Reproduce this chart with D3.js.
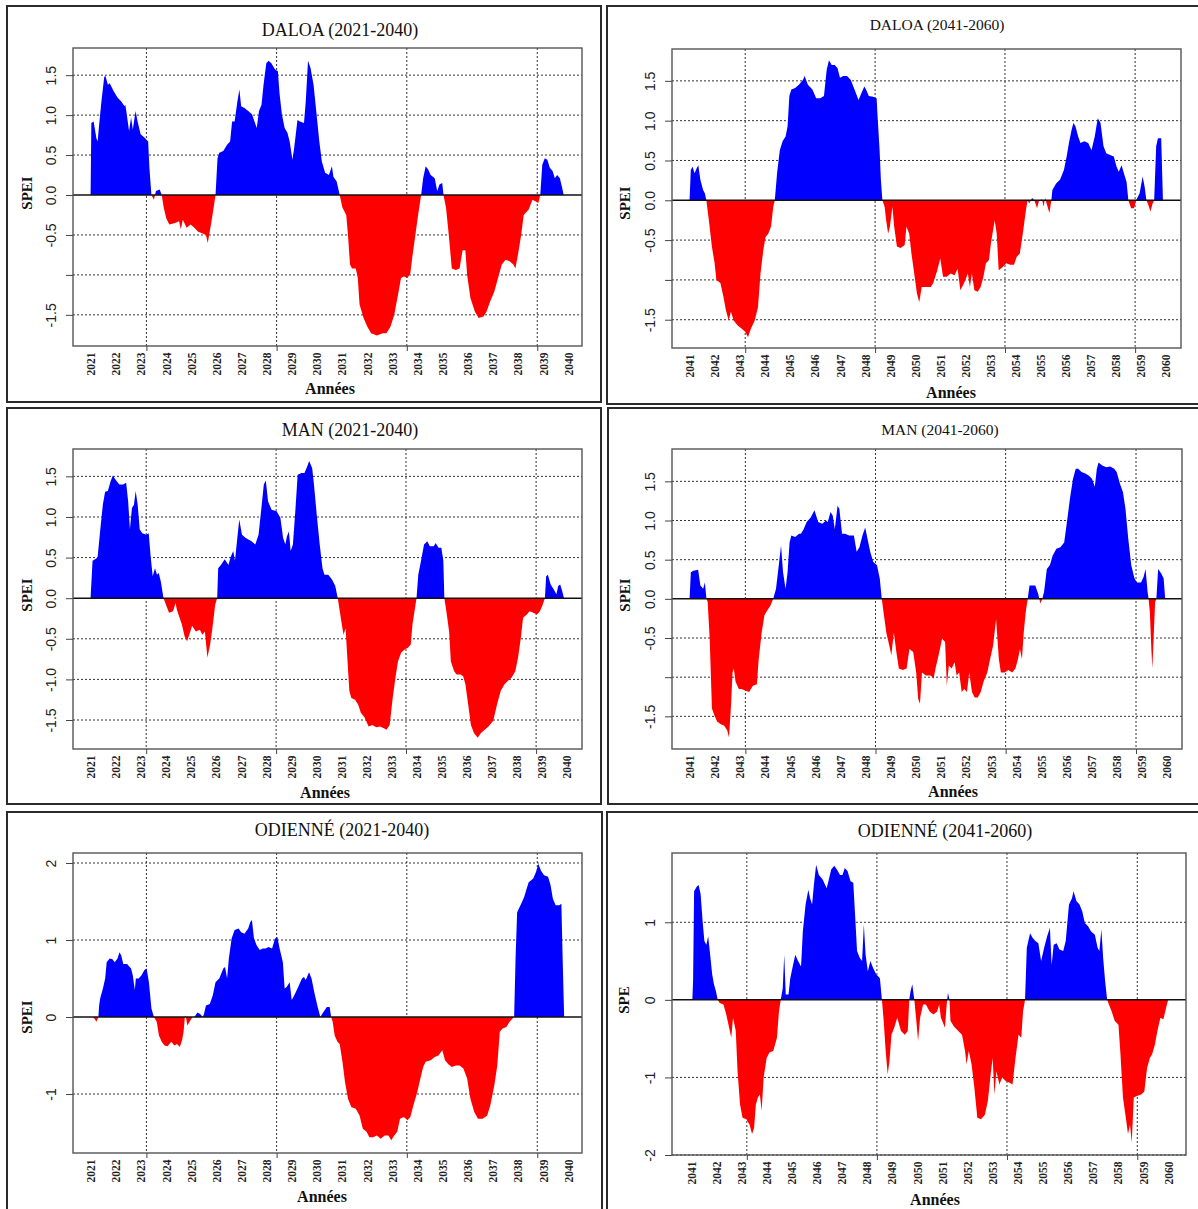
<!DOCTYPE html>
<html>
<head>
<meta charset="utf-8">
<script src="https://cdn.jsdelivr.net/npm/d3@7/dist/d3.min.js"></script>
<style>
  body { margin: 0; background: #fff; }
</style>
</head>
<body>
<svg id="chart"></svg>
<script>
// SPEI series: [years since first labelled year, SPEI]
var daloa2021 = [[0,0],[0.03,0.90],[0.12,0.92],[0.23,0.71],[0.28,0.67],[0.34,0.88],[0.43,1.17],[0.54,1.47],[0.58,1.50],[0.69,1.38],[0.76,1.40],[0.92,1.30],[1.07,1.22],[1.22,1.17],[1.35,1.11],[1.38,1.13],[1.42,1.05],[1.53,0.80],[1.61,0.97],[1.68,0.82],[1.79,1.05],[1.87,0.92],[1.99,0.76],[2.14,0.72],[2.29,0.67],[2.34,0.34],[2.42,0],[2.52,-0.06],[2.60,0.05],[2.75,0.07],[2.83,0],[2.91,-0.16],[3.01,-0.29],[3.13,-0.37],[3.36,-0.35],[3.52,-0.33],[3.59,-0.43],[3.67,-0.31],[3.82,-0.41],[3.98,-0.37],[4.13,-0.41],[4.28,-0.46],[4.43,-0.48],[4.59,-0.50],[4.66,-0.60],[4.74,-0.46],[4.85,-0.25],[4.97,0],[5.05,0.46],[5.12,0.53],[5.28,0.55],[5.43,0.63],[5.55,0.67],[5.63,0.92],[5.73,0.92],[5.84,1.17],[5.92,1.32],[5.99,1.11],[6.12,1.09],[6.27,1.05],[6.42,1.01],[6.50,0.94],[6.61,0.84],[6.70,1.05],[6.80,1.13],[6.88,1.38],[6.99,1.65],[7.08,1.68],[7.19,1.65],[7.34,1.57],[7.45,1.55],[7.52,1.26],[7.61,1.01],[7.72,0.84],[7.83,0.78],[7.92,0.67],[8.03,0.44],[8.10,0.59],[8.23,0.94],[8.33,0.92],[8.49,0.90],[8.56,1.17],[8.65,1.68],[8.75,1.59],[8.87,1.38],[8.99,1.01],[9.10,0.67],[9.20,0.42],[9.33,0.28],[9.48,0.25],[9.60,0.36],[9.66,0.23],[9.79,0.17],[9.91,0],[10.02,-0.16],[10.09,-0.20],[10.17,-0.25],[10.24,-0.50],[10.32,-0.87],[10.40,-0.92],[10.55,-0.92],[10.63,-1.04],[10.70,-1.37],[10.86,-1.54],[11.01,-1.65],[11.16,-1.73],[11.39,-1.76],[11.62,-1.73],[11.77,-1.73],[11.93,-1.65],[12.08,-1.50],[12.23,-1.25],[12.35,-1.04],[12.46,-1.02],[12.61,-1.04],[12.72,-0.98],[12.81,-0.75],[12.92,-0.50],[13.03,-0.25],[13.15,0],[13.23,0.21],[13.33,0.36],[13.43,0.32],[13.53,0.25],[13.69,0.21],[13.79,0.05],[13.88,0.13],[13.99,0.15],[14.04,0],[14.14,-0.16],[14.25,-0.50],[14.37,-0.92],[14.53,-0.94],[14.68,-0.92],[14.80,-0.69],[14.91,-0.69],[14.98,-1.00],[15.11,-1.29],[15.29,-1.46],[15.44,-1.54],[15.63,-1.52],[15.75,-1.46],[15.90,-1.33],[16.06,-1.21],[16.21,-1.04],[16.36,-0.87],[16.51,-0.81],[16.67,-0.83],[16.82,-0.87],[16.90,-0.92],[17.00,-0.75],[17.13,-0.50],[17.23,-0.25],[17.43,-0.18],[17.58,-0.06],[17.71,-0.08],[17.81,-0.10],[17.89,0],[17.97,0.38],[18.07,0.46],[18.17,0.44],[18.27,0.34],[18.38,0.30],[18.47,0.21],[18.56,0.25],[18.67,0.21],[18.76,0.09],[18.82,0]];

var daloa2041 = [[0,0],[0.05,0.38],[0.12,0.42],[0.20,0.34],[0.28,0.40],[0.35,0.44],[0.43,0.26],[0.54,0.13],[0.61,0.09],[0.67,0],[0.77,-0.25],[0.89,-0.58],[1.00,-0.79],[1.07,-1.00],[1.23,-1.04],[1.35,-1.21],[1.45,-1.38],[1.56,-1.51],[1.65,-1.40],[1.76,-1.51],[1.91,-1.57],[2.07,-1.61],[2.22,-1.65],[2.33,-1.72],[2.45,-1.61],[2.60,-1.51],[2.73,-1.34],[2.83,-0.92],[2.94,-0.63],[3.03,-0.46],[3.14,-0.42],[3.25,-0.33],[3.34,-0.08],[3.40,0],[3.49,0.34],[3.60,0.63],[3.71,0.74],[3.83,0.80],[3.91,0.93],[3.98,1.31],[4.06,1.39],[4.21,1.41],[4.36,1.45],[4.52,1.51],[4.59,1.56],[4.72,1.45],[4.90,1.39],[5.05,1.28],[5.21,1.28],[5.36,1.31],[5.47,1.64],[5.56,1.76],[5.67,1.70],[5.79,1.70],[5.90,1.66],[6.00,1.54],[6.13,1.56],[6.28,1.56],[6.43,1.51],[6.58,1.39],[6.74,1.26],[6.86,1.35],[6.97,1.43],[7.04,1.39],[7.15,1.31],[7.32,1.30],[7.46,1.28],[7.50,1.05],[7.58,0.63],[7.63,0.26],[7.69,0],[7.78,-0.08],[7.84,-0.25],[7.92,-0.42],[7.99,-0.33],[8.09,-0.08],[8.16,-0.33],[8.27,-0.58],[8.42,-0.60],[8.58,-0.56],[8.65,-0.33],[8.76,-0.42],[8.85,-0.67],[8.96,-0.92],[9.07,-1.17],[9.16,-1.28],[9.26,-1.09],[9.42,-1.09],[9.62,-1.09],[9.72,-1.04],[9.88,-0.88],[10.00,-0.73],[10.11,-0.96],[10.26,-0.96],[10.41,-0.92],[10.57,-0.94],[10.69,-0.86],[10.80,-1.13],[10.95,-1.04],[11.10,-0.92],[11.18,-1.09],[11.26,-0.92],[11.36,-1.13],[11.49,-1.15],[11.61,-1.09],[11.72,-0.96],[11.82,-0.79],[11.94,-0.75],[12.02,-0.54],[12.17,-0.25],[12.25,-0.42],[12.33,-0.88],[12.48,-0.84],[12.63,-0.79],[12.79,-0.81],[12.94,-0.81],[13.05,-0.71],[13.17,-0.67],[13.29,-0.42],[13.40,-0.16],[13.48,0],[13.55,-0.04],[13.66,0.03],[13.75,0],[13.86,-0.10],[13.94,0],[14.06,0.01],[14.12,-0.08],[14.18,0.03],[14.24,-0.04],[14.35,-0.16],[14.43,0],[14.47,0.13],[14.62,0.21],[14.78,0.26],[14.93,0.38],[15.04,0.55],[15.13,0.72],[15.24,0.89],[15.31,0.97],[15.39,0.93],[15.50,0.80],[15.59,0.72],[15.74,0.74],[15.90,0.72],[16.03,0.63],[16.16,0.80],[16.28,1.03],[16.39,0.97],[16.51,0.68],[16.62,0.59],[16.77,0.57],[16.92,0.55],[17.03,0.42],[17.12,0.36],[17.23,0.44],[17.34,0.32],[17.43,0.23],[17.50,0],[17.61,-0.10],[17.73,-0.10],[17.81,0],[17.95,0.09],[18.07,0.30],[18.15,0.17],[18.22,0],[18.30,-0.06],[18.38,-0.14],[18.47,-0.04],[18.53,0],[18.61,0.68],[18.68,0.78],[18.81,0.78],[18.88,0]];

var man2021 = [[0,0],[0.08,0.46],[0.18,0.48],[0.28,0.50],[0.38,0.82],[0.49,1.15],[0.58,1.31],[0.69,1.32],[0.80,1.44],[0.89,1.51],[0.99,1.46],[1.15,1.40],[1.30,1.40],[1.42,1.42],[1.50,1.19],[1.57,0.85],[1.65,1.11],[1.73,1.15],[1.80,1.32],[1.88,1.15],[1.96,0.85],[2.06,0.80],[2.22,0.78],[2.32,0.80],[2.40,0.50],[2.48,0.27],[2.57,0.37],[2.65,0.29],[2.72,0.31],[2.80,0.21],[2.91,0],[3.03,-0.10],[3.13,-0.18],[3.29,-0.16],[3.39,-0.06],[3.44,-0.14],[3.55,-0.24],[3.64,-0.32],[3.75,-0.47],[3.85,-0.53],[3.98,-0.41],[4.05,-0.34],[4.20,-0.41],[4.36,-0.39],[4.46,-0.45],[4.56,-0.41],[4.66,-0.73],[4.77,-0.57],[4.86,-0.37],[4.97,-0.08],[5.05,0],[5.09,0.37],[5.20,0.41],[5.35,0.48],[5.50,0.41],[5.58,0.50],[5.69,0.58],[5.76,0.46],[5.84,0.70],[5.93,0.97],[6.04,0.78],[6.19,0.74],[6.42,0.70],[6.57,0.66],[6.70,0.78],[6.80,1.07],[6.91,1.40],[6.99,1.45],[7.08,1.19],[7.22,1.09],[7.42,1.07],[7.57,0.99],[7.68,0.74],[7.77,0.66],[7.83,0.76],[7.91,0.82],[7.98,0.58],[8.07,0.66],[8.17,1.09],[8.26,1.52],[8.41,1.54],[8.53,1.54],[8.64,1.62],[8.72,1.69],[8.84,1.60],[8.91,1.40],[9.02,1.03],[9.14,0.66],[9.25,0.37],[9.33,0.29],[9.48,0.29],[9.63,0.23],[9.76,0.15],[9.86,0],[9.94,-0.16],[10.02,-0.32],[10.09,-0.45],[10.17,-0.37],[10.24,-0.73],[10.32,-1.14],[10.40,-1.23],[10.55,-1.25],[10.67,-1.31],[10.78,-1.41],[10.93,-1.47],[11.09,-1.58],[11.24,-1.56],[11.39,-1.59],[11.54,-1.58],[11.70,-1.60],[11.80,-1.62],[11.93,-1.56],[12.05,-1.23],[12.16,-0.98],[12.26,-0.78],[12.39,-0.67],[12.54,-0.63],[12.66,-0.61],[12.77,-0.57],[12.84,-0.32],[12.92,-0.16],[13.00,0],[13.07,0.29],[13.18,0.46],[13.30,0.66],[13.43,0.70],[13.53,0.64],[13.69,0.64],[13.76,0.68],[13.88,0.62],[13.99,0.62],[14.07,0.46],[14.11,0],[14.19,-0.16],[14.30,-0.41],[14.37,-0.78],[14.50,-0.90],[14.60,-0.94],[14.76,-0.94],[14.86,-0.96],[14.95,-1.06],[15.06,-1.31],[15.17,-1.56],[15.29,-1.66],[15.44,-1.72],[15.57,-1.66],[15.72,-1.62],[15.87,-1.58],[16.06,-1.51],[16.21,-1.31],[16.36,-1.14],[16.51,-1.06],[16.64,-1.02],[16.79,-0.98],[16.94,-0.90],[17.05,-0.73],[17.16,-0.49],[17.25,-0.24],[17.40,-0.20],[17.51,-0.16],[17.66,-0.18],[17.81,-0.20],[17.92,-0.16],[18.01,-0.10],[18.12,0],[18.17,0.27],[18.24,0.29],[18.35,0.17],[18.47,0.11],[18.58,0.05],[18.65,0.15],[18.73,0.17],[18.81,0.09],[18.88,0]];

var man2041 = [[0,0],[0.05,0.34],[0.15,0.36],[0.34,0.37],[0.43,0.17],[0.54,0.13],[0.61,0.21],[0.67,0],[0.72,-0.04],[0.80,-0.51],[0.89,-1.40],[0.99,-1.49],[1.10,-1.57],[1.25,-1.60],[1.38,-1.62],[1.50,-1.68],[1.57,-1.77],[1.65,-1.36],[1.71,-0.94],[1.76,-0.89],[1.83,-1.06],[1.96,-1.15],[2.06,-1.15],[2.22,-1.17],[2.37,-1.19],[2.52,-1.11],[2.68,-1.09],[2.75,-0.77],[2.87,-0.43],[2.98,-0.21],[3.09,-0.15],[3.21,-0.09],[3.33,0],[3.44,0.13],[3.55,0.43],[3.64,0.68],[3.72,0.34],[3.82,0.13],[3.90,0.34],[3.98,0.72],[4.05,0.81],[4.20,0.79],[4.36,0.83],[4.43,0.83],[4.54,0.89],[4.66,0.98],[4.82,1.04],[4.97,1.13],[5.12,0.98],[5.28,0.96],[5.43,1.00],[5.50,0.98],[5.61,1.11],[5.70,1.06],[5.78,0.89],[5.89,1.19],[5.96,1.15],[6.07,0.83],[6.19,0.83],[6.35,0.81],[6.54,0.81],[6.65,0.60],[6.76,0.66],[6.88,0.81],[6.99,0.91],[7.08,0.77],[7.19,0.60],[7.31,0.47],[7.46,0.43],[7.57,0.26],[7.65,0],[7.72,-0.17],[7.83,-0.43],[7.95,-0.60],[8.03,-0.72],[8.13,-0.43],[8.23,-0.68],[8.33,-0.89],[8.49,-0.91],[8.64,-0.89],[8.75,-0.64],[8.90,-0.68],[9.02,-0.94],[9.10,-1.28],[9.17,-1.34],[9.25,-0.94],[9.40,-0.98],[9.60,-0.98],[9.71,-1.02],[9.79,-0.89],[9.94,-0.68],[10.05,-0.51],[10.17,-0.55],[10.24,-1.11],[10.32,-0.85],[10.43,-0.89],[10.55,-0.81],[10.63,-0.98],[10.73,-0.94],[10.83,-1.19],[10.93,-1.15],[11.04,-1.19],[11.13,-0.94],[11.24,-1.19],[11.35,-1.26],[11.47,-1.26],[11.59,-1.19],[11.70,-1.06],[11.85,-0.94],[11.96,-0.77],[12.08,-0.60],[12.20,-0.26],[12.31,-0.77],[12.39,-0.94],[12.54,-0.94],[12.69,-0.91],[12.84,-0.94],[12.97,-0.89],[13.07,-0.77],[13.15,-0.64],[13.23,-0.77],[13.30,-0.43],[13.38,-0.17],[13.46,0],[13.53,0.17],[13.64,0.17],[13.76,0.17],[13.88,0.06],[13.96,-0.06],[14.04,0],[14.11,0.09],[14.22,0.38],[14.34,0.43],[14.45,0.55],[14.60,0.64],[14.76,0.66],[14.91,0.72],[15.02,0.98],[15.14,1.28],[15.26,1.53],[15.37,1.66],[15.47,1.66],[15.60,1.62],[15.75,1.60],[15.90,1.57],[16.02,1.53],[16.13,1.43],[16.21,1.66],[16.28,1.74],[16.44,1.70],[16.59,1.68],[16.74,1.69],[16.90,1.66],[17.00,1.62],[17.13,1.47],[17.25,1.36],[17.35,1.15],[17.46,0.77],[17.58,0.43],[17.71,0.26],[17.81,0.21],[17.97,0.21],[18.07,0.28],[18.15,0.38],[18.23,0.09],[18.27,0],[18.32,-0.17],[18.38,-0.64],[18.42,-0.89],[18.47,-0.51],[18.53,-0.04],[18.58,0],[18.65,0.38],[18.78,0.32],[18.87,0.26],[18.93,0]];

var odienne2021 = [[0.08,0],[0.15,-0.02],[0.23,-0.06],[0.31,0],[0.34,0.15],[0.38,0.24],[0.49,0.37],[0.58,0.50],[0.64,0.71],[0.76,0.76],[0.87,0.75],[0.96,0.71],[1.07,0.76],[1.15,0.84],[1.22,0.80],[1.30,0.69],[1.45,0.69],[1.61,0.63],[1.68,0.54],[1.76,0.35],[1.80,0.50],[1.91,0.50],[2.02,0.54],[2.14,0.61],[2.23,0.63],[2.32,0.45],[2.42,0.11],[2.52,0],[2.63,-0.06],[2.72,-0.24],[2.83,-0.32],[2.94,-0.37],[3.06,-0.38],[3.21,-0.32],[3.33,-0.37],[3.44,-0.35],[3.55,-0.39],[3.64,-0.30],[3.70,-0.19],[3.75,0],[3.78,0.02],[3.85,-0.11],[3.98,-0.04],[4.05,0],[4.13,0],[4.25,0.06],[4.36,0.04],[4.46,0],[4.51,0.04],[4.59,0.15],[4.74,0.17],[4.86,0.28],[4.97,0.45],[5.12,0.50],[5.28,0.63],[5.35,0.65],[5.43,0.50],[5.50,0.76],[5.61,1.02],[5.73,1.13],[5.89,1.15],[5.99,1.10],[6.12,1.08],[6.27,1.15],[6.35,1.23],[6.42,1.26],[6.50,1.02],[6.61,0.93],[6.73,0.87],[6.85,0.89],[6.96,0.89],[7.08,0.91],[7.22,0.89],[7.34,1.02],[7.43,1.04],[7.52,0.89],[7.65,0.71],[7.72,0.37],[7.80,0.39],[7.92,0.45],[8.00,0.22],[8.10,0.28],[8.26,0.39],[8.41,0.50],[8.49,0.52],[8.56,0.48],[8.69,0.58],[8.79,0.50],[8.90,0.32],[9.02,0.15],[9.14,0],[9.25,0.06],[9.40,0.13],[9.51,0.13],[9.57,0],[9.63,-0.06],[9.71,-0.24],[9.82,-0.32],[9.91,-0.35],[10.02,-0.58],[10.12,-0.84],[10.24,-1.06],[10.37,-1.17],[10.55,-1.19],[10.70,-1.28],[10.83,-1.45],[10.98,-1.49],[11.09,-1.56],[11.24,-1.56],[11.39,-1.54],[11.54,-1.58],[11.70,-1.54],[11.85,-1.54],[11.96,-1.60],[12.08,-1.54],[12.20,-1.49],[12.31,-1.32],[12.46,-1.30],[12.61,-1.34],[12.72,-1.30],[12.84,-1.15],[13.00,-0.97],[13.12,-0.80],[13.23,-0.65],[13.33,-0.58],[13.53,-0.56],[13.69,-0.52],[13.84,-0.50],[13.99,-0.43],[14.10,-0.56],[14.22,-0.61],[14.37,-0.65],[14.53,-0.63],[14.68,-0.63],[14.83,-0.67],[14.98,-0.80],[15.11,-1.06],[15.26,-1.23],[15.41,-1.32],[15.60,-1.32],[15.78,-1.28],[15.90,-1.15],[16.06,-0.89],[16.18,-0.63],[16.28,-0.19],[16.39,-0.15],[16.54,-0.13],[16.67,-0.06],[16.79,-0.02],[16.85,0],[16.91,0.80],[16.97,1.36],[17.13,1.47],[17.25,1.56],[17.35,1.67],[17.43,1.75],[17.61,1.80],[17.74,1.90],[17.81,1.99],[17.92,1.90],[18.04,1.84],[18.20,1.82],[18.30,1.71],[18.39,1.54],[18.50,1.45],[18.65,1.45],[18.73,1.47],[18.78,0.76],[18.84,0]];

var odienne2041 = [[0.05,0],[0.08,0.24],[0.12,1.40],[0.23,1.46],[0.30,1.48],[0.38,1.36],[0.46,1.01],[0.53,0.76],[0.61,0.71],[0.68,0.82],[0.76,0.58],[0.84,0.33],[0.91,0.20],[0.99,0.11],[1.06,0],[1.14,-0.04],[1.29,-0.06],[1.40,-0.19],[1.49,-0.32],[1.60,-0.49],[1.67,-0.23],[1.78,-0.40],[1.85,-0.92],[1.95,-1.35],[2.05,-1.52],[2.20,-1.54],[2.33,-1.61],[2.43,-1.73],[2.51,-1.65],[2.58,-1.35],[2.66,-1.26],[2.74,-1.22],[2.81,-1.43],[2.89,-1.00],[3.01,-0.75],[3.12,-0.68],[3.27,-0.66],[3.42,-0.49],[3.50,-0.15],[3.57,0],[3.65,0.15],[3.71,0.58],[3.77,0.07],[3.88,0.07],[3.95,0.28],[4.06,0.45],[4.15,0.58],[4.26,0.50],[4.38,0.43],[4.45,0.88],[4.56,1.23],[4.67,1.42],[4.74,1.31],[4.82,1.23],[4.89,1.48],[4.98,1.74],[5.09,1.61],[5.24,1.55],[5.40,1.44],[5.47,1.53],[5.58,1.68],[5.70,1.73],[5.81,1.68],[5.93,1.61],[6.03,1.61],[6.12,1.70],[6.23,1.66],[6.35,1.53],[6.46,1.51],[6.53,1.10],[6.61,0.63],[6.72,0.54],[6.81,0.50],[6.88,0.97],[6.95,0.58],[7.04,0.37],[7.14,0.50],[7.25,0.41],[7.37,0.33],[7.52,0.28],[7.60,0],[7.67,-0.27],[7.75,-0.66],[7.83,-0.96],[7.90,-0.79],[7.98,-0.45],[8.09,-0.36],[8.21,-0.23],[8.36,-0.40],[8.51,-0.45],[8.63,-0.40],[8.69,0],[8.74,0.11],[8.81,0.20],[8.89,0],[8.97,-0.27],[9.04,-0.53],[9.12,-0.23],[9.24,-0.06],[9.35,-0.06],[9.50,-0.15],[9.65,-0.19],[9.80,-0.15],[9.88,-0.06],[9.95,-0.23],[10.11,-0.36],[10.18,-0.06],[10.23,0.09],[10.29,0],[10.33,-0.27],[10.46,-0.34],[10.64,-0.40],[10.79,-0.45],[10.91,-0.66],[10.97,-0.83],[11.06,-0.66],[11.17,-0.83],[11.28,-1.13],[11.40,-1.52],[11.55,-1.54],[11.70,-1.48],[11.82,-1.30],[11.93,-0.96],[12.01,-0.75],[12.08,-1.22],[12.16,-0.92],[12.28,-1.09],[12.39,-1.00],[12.54,-1.05],[12.69,-1.07],[12.80,-1.09],[12.92,-0.75],[13.04,-0.45],[13.15,-0.49],[13.22,-0.15],[13.30,0],[13.37,0.67],[13.50,0.86],[13.60,0.80],[13.71,0.76],[13.83,0.73],[13.94,0.50],[14.06,0.67],[14.18,0.82],[14.29,0.93],[14.36,0.45],[14.44,0.71],[14.56,0.73],[14.67,0.65],[14.82,0.63],[14.92,0.76],[15.05,1.23],[15.17,1.31],[15.23,1.40],[15.35,1.27],[15.47,1.23],[15.58,1.14],[15.68,0.99],[15.81,0.95],[15.93,0.88],[16.08,0.84],[16.19,0.67],[16.26,0.63],[16.34,0.91],[16.41,0.54],[16.49,0.24],[16.57,0],[16.64,-0.06],[16.75,-0.15],[16.87,-0.27],[17.02,-0.32],[17.10,-0.70],[17.20,-1.26],[17.33,-1.56],[17.40,-1.73],[17.48,-1.61],[17.55,-1.84],[17.63,-1.26],[17.75,-1.24],[17.93,-1.22],[18.05,-1.18],[18.16,-0.88],[18.27,-0.75],[18.36,-0.70],[18.47,-0.58],[18.57,-0.40],[18.69,-0.23],[18.81,-0.25],[18.92,-0.10],[19.00,0]];

// axis ticks
var halfTicks = [-1.5, -1, -0.5, 0, 0.5, 1, 1.5];
var unitTicksA = [-1, 0, 1, 2];
var unitTicksB = [-2, -1, 0, 1];
var gridOffsets = [2.22, 7.40, 12.58, 17.77];   // vertical grid, years after first label

var panels = [
  {title: "DALOA (2021-2040)", start: 2021, data: daloa2021, yticks: halfTicks, hide: [-1], ydom: [-1.89, 1.84], ylab: "SPEI",
   frame: [7, 6, 601, 402], box: [73, 48, 582, 346], xdom: [-0.7, 19.55],
   tpos: [340, 36, 18], ypos: [27, 193], apos: [330, 394]},
  {title: "DALOA (2041-2060)", start: 2041, data: daloa2041, yticks: halfTicks, hide: [-1], ydom: [-1.855, 1.90], ylab: "SPEI",
   frame: [607, 6, 1202, 404], box: [672, 49, 1181, 348], xdom: [-0.7, 19.6],
   tpos: [937, 30, 15.5], ypos: [625, 203], apos: [951, 398]},
  {title: "MAN (2021-2040)", start: 2021, data: man2021, yticks: halfTicks, hide: [], ydom: [-1.857, 1.837], ylab: "SPEI",
   frame: [7, 408, 601, 804], box: [73, 449, 582, 749], xdom: [-0.7, 19.6],
   tpos: [350, 436, 18], ypos: [27, 595], apos: [325, 798]},
  {title: "MAN (2041-2060)", start: 2041, data: man2041, yticks: halfTicks, hide: [-1], ydom: [-1.917, 1.913], ylab: "SPEI",
   frame: [608, 408, 1202, 804], box: [672, 449, 1182, 749], xdom: [-0.7, 19.6],
   tpos: [940, 435, 15.5], ypos: [625, 595], apos: [953, 797]},
  {title: "ODIENNÉ (2021-2040)", start: 2021, data: odienne2021, yticks: unitTicksA, hide: [], ydom: [-1.766, 2.13], ylab: "SPEI",
   frame: [7, 812, 602, 1214], box: [73, 853, 582, 1153], xdom: [-0.7, 19.55],
   tpos: [342, 836, 18], ypos: [27, 1017], apos: [322, 1202]},
  {title: "ODIENNÉ (2041-2060)", start: 2041, data: odienne2041, yticks: unitTicksB, hide: [], ydom: [-2.0, 1.893], ylab: "SPE",
   frame: [607, 812, 1202, 1214], box: [672, 853, 1186, 1155], xdom: [-0.76, 19.71],
   tpos: [945, 837, 18], ypos: [624, 1000], apos: [935, 1205]}
];

var W = 1198, H = 1209;
var serif = "'Liberation Serif', 'Times New Roman', serif";
var sans = "'Liberation Sans', Arial, sans-serif";

var svg = d3.select("#chart").attr("width", W).attr("height", H);
svg.append("rect").attr("width", W).attr("height", H).attr("fill", "#fff");
var defs = svg.append("defs");

panels.forEach(function(p, i) {
  var b = p.box;
  var g = svg.append("g");

  // outer frame
  g.append("rect")
    .attr("x", p.frame[0]).attr("y", p.frame[1])
    .attr("width", p.frame[2] - p.frame[0]).attr("height", p.frame[3] - p.frame[1])
    .attr("fill", "none").attr("stroke", "#2b2b2b").attr("stroke-width", 2);

  var x = d3.scaleLinear()
    .domain([p.start + p.xdom[0], p.start + p.xdom[1]])
    .range([b[0], b[2]]);
  var y = d3.scaleLinear().domain(p.ydom).range([b[3], b[1]]);

  // dotted grid
  var grid = g.append("g")
    .attr("stroke", "#333").attr("stroke-width", 1).attr("stroke-dasharray", "2,2");
  grid.selectAll("line.h")
    .data(p.yticks.filter(function(v) { return v !== 0; }))
    .join("line").attr("class", "h")
      .attr("x1", b[0]).attr("x2", b[2])
      .attr("y1", function(v) { return y(v); }).attr("y2", function(v) { return y(v); });
  grid.selectAll("line.v")
    .data(gridOffsets)
    .join("line").attr("class", "v")
      .attr("x1", function(t) { return x(p.start + t); }).attr("x2", function(t) { return x(p.start + t); })
      .attr("y1", b[1]).attr("y2", b[3]);

  // clip regions above / below zero
  defs.append("clipPath").attr("id", "pos" + i)
    .append("rect").attr("x", b[0]).attr("y", b[1]).attr("width", b[2] - b[0]).attr("height", y(0) - b[1]);
  defs.append("clipPath").attr("id", "neg" + i)
    .append("rect").attr("x", b[0]).attr("y", y(0)).attr("width", b[2] - b[0]).attr("height", b[3] - y(0));

  var area = d3.area()
    .x(function(d) { return x(p.start + d[0]); })
    .y0(y(0))
    .y1(function(d) { return y(d[1]); });

  g.append("path").datum(p.data).attr("d", area)
    .attr("fill", "#0000ff").attr("clip-path", "url(#pos" + i + ")");
  g.append("path").datum(p.data).attr("d", area)
    .attr("fill", "#ff0000").attr("clip-path", "url(#neg" + i + ")");

  // zero line
  g.append("line")
    .attr("x1", b[0]).attr("x2", b[2]).attr("y1", y(0)).attr("y2", y(0))
    .attr("stroke", "#111").attr("stroke-width", 1.5);

  // plot box
  g.append("rect")
    .attr("x", b[0]).attr("y", b[1]).attr("width", b[2] - b[0]).attr("height", b[3] - b[1])
    .attr("fill", "none").attr("stroke", "#555").attr("stroke-width", 1.4);

  // y axis
  var fmt = p.yticks === halfTicks ? d3.format(".1f") : d3.format("d");
  var yAxis = g.append("g")
    .attr("transform", "translate(" + b[0] + ",0)")
    .call(d3.axisLeft(y).tickValues(p.yticks).tickSize(7)
      .tickFormat(function(v) { return p.hide.indexOf(v) >= 0 ? "" : fmt(v).replace("−", "-"); }));
  yAxis.select(".domain").remove();
  yAxis.selectAll("line").attr("stroke", "#444");
  yAxis.selectAll("text")
    .attr("x", 0).attr("dy", "0.35em")
    .attr("transform", "translate(-22,0) rotate(-90)")
    .attr("text-anchor", "middle")
    .attr("font-family", sans).attr("font-size", 14).attr("fill", "#222");

  // x axis: tick marks at grid positions, year labels evenly spaced
  var xTicks = g.append("g")
    .attr("transform", "translate(0," + b[3] + ")")
    .call(d3.axisBottom(x).tickValues(gridOffsets.map(function(t) { return p.start + t; }))
      .tickSize(5).tickFormat(""));
  xTicks.select(".domain").remove();
  xTicks.selectAll("line").attr("stroke", "#444");

  var years = d3.range(p.start, p.start + 20);
  var xLabels = g.append("g")
    .attr("transform", "translate(0," + b[3] + ")")
    .call(d3.axisBottom(x).tickValues(years).tickSize(0).tickFormat(d3.format("d")));
  xLabels.select(".domain").remove();
  xLabels.selectAll("text")
    .attr("y", 0).attr("dy", "0.35em")
    .attr("transform", "translate(0,18) rotate(-90)")
    .attr("text-anchor", "middle")
    .attr("font-family", serif).attr("font-weight", "bold").attr("font-size", 11.5).attr("fill", "#222");

  // titles and axis names
  g.append("text")
    .attr("x", p.tpos[0]).attr("y", p.tpos[1])
    .attr("text-anchor", "middle")
    .attr("font-family", serif).attr("font-size", p.tpos[2]).attr("fill", "#111")
    .text(p.title);
  g.append("text")
    .attr("transform", "translate(" + p.ypos[0] + "," + p.ypos[1] + ") rotate(-90)")
    .attr("text-anchor", "middle").attr("dy", "0.35em")
    .attr("font-family", serif).attr("font-weight", "bold").attr("font-size", 15).attr("fill", "#111")
    .text(p.ylab);
  g.append("text")
    .attr("x", p.apos[0]).attr("y", p.apos[1])
    .attr("text-anchor", "middle")
    .attr("font-family", serif).attr("font-weight", "bold").attr("font-size", 16).attr("fill", "#111")
    .text("Années");
});
</script>
</body>
</html>
